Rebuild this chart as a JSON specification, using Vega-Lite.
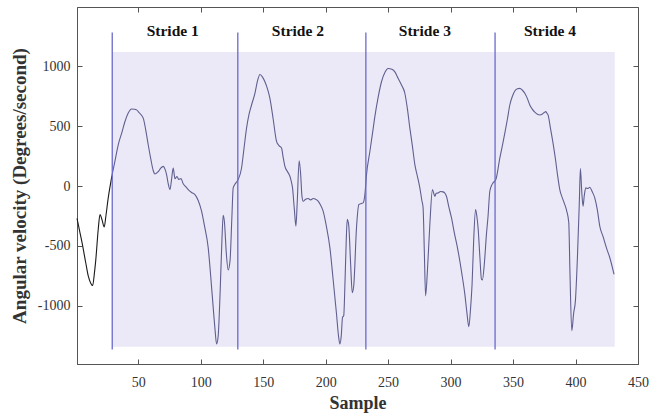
{
  "$schema": "https://vega.github.io/schema/vega-lite/v6.json",
  "width": 561,
  "height": 357,
  "autosize": {"type": "none"},
  "padding": {"left": 77, "top": 7, "right": 13, "bottom": 54},
  "background": "white",
  "config": {
    "view": {"stroke": "#555555", "strokeWidth": 1},
    "font": "Liberation Serif",
    "axis": {
      "labelFont": "Liberation Serif",
      "titleFont": "Liberation Serif",
      "labelFontSize": 14,
      "labelColor": "#333333",
      "titleFontWeight": "bold",
      "titleColor": "#333333",
      "domainColor": "#555555",
      "tickColor": "#555555",
      "grid": false
    }
  },
  "resolve": {"axis": {"x": "independent", "y": "independent"}},
  "datasets": {
    "signal": [
      {"sample": 1, "value": -270, "phase": "pre"},
      {"sample": 3, "value": -370, "phase": "pre"},
      {"sample": 5, "value": -470, "phase": "pre"},
      {"sample": 8, "value": -640, "phase": "pre"},
      {"sample": 10, "value": -750, "phase": "pre"},
      {"sample": 12, "value": -810, "phase": "pre"},
      {"sample": 13.5, "value": -830, "phase": "pre"},
      {"sample": 15, "value": -720, "phase": "pre"},
      {"sample": 16, "value": -620, "phase": "pre"},
      {"sample": 18, "value": -360, "phase": "pre"},
      {"sample": 19.4, "value": -237, "phase": "pre"},
      {"sample": 21, "value": -280, "phase": "pre"},
      {"sample": 22.8, "value": -342, "phase": "pre"},
      {"sample": 24, "value": -260, "phase": "pre"},
      {"sample": 26, "value": -98, "phase": "pre"},
      {"sample": 27.5, "value": 0, "phase": "pre"},
      {"sample": 29, "value": 90, "phase": "pre"},
      {"sample": 29, "value": 90, "phase": "stride"},
      {"sample": 31, "value": 190, "phase": "stride"},
      {"sample": 34, "value": 345, "phase": "stride"},
      {"sample": 37, "value": 450, "phase": "stride"},
      {"sample": 39.4, "value": 539, "phase": "stride"},
      {"sample": 42, "value": 610, "phase": "stride"},
      {"sample": 44.7, "value": 644, "phase": "stride"},
      {"sample": 47, "value": 642, "phase": "stride"},
      {"sample": 48.7, "value": 636, "phase": "stride"},
      {"sample": 51, "value": 610, "phase": "stride"},
      {"sample": 54, "value": 567, "phase": "stride"},
      {"sample": 56, "value": 470, "phase": "stride"},
      {"sample": 58, "value": 345, "phase": "stride"},
      {"sample": 60, "value": 230, "phase": "stride"},
      {"sample": 62, "value": 130, "phase": "stride"},
      {"sample": 63.4, "value": 101, "phase": "stride"},
      {"sample": 66, "value": 120, "phase": "stride"},
      {"sample": 68, "value": 150, "phase": "stride"},
      {"sample": 70, "value": 165, "phase": "stride"},
      {"sample": 71.5, "value": 140, "phase": "stride"},
      {"sample": 72.7, "value": 96, "phase": "stride"},
      {"sample": 74, "value": 20, "phase": "stride"},
      {"sample": 75.4, "value": -29, "phase": "stride"},
      {"sample": 76.5, "value": 40, "phase": "stride"},
      {"sample": 78, "value": 151, "phase": "stride"},
      {"sample": 79.4, "value": 62, "phase": "stride"},
      {"sample": 81, "value": 80, "phase": "stride"},
      {"sample": 82.5, "value": 55, "phase": "stride"},
      {"sample": 84.2, "value": 62, "phase": "stride"},
      {"sample": 86, "value": 20, "phase": "stride"},
      {"sample": 88, "value": -5, "phase": "stride"},
      {"sample": 90, "value": -29, "phase": "stride"},
      {"sample": 93, "value": -55, "phase": "stride"},
      {"sample": 95.4, "value": -71, "phase": "stride"},
      {"sample": 98, "value": -120, "phase": "stride"},
      {"sample": 100.7, "value": -209, "phase": "stride"},
      {"sample": 103, "value": -330, "phase": "stride"},
      {"sample": 106, "value": -514, "phase": "stride"},
      {"sample": 108, "value": -750, "phase": "stride"},
      {"sample": 110, "value": -1012, "phase": "stride"},
      {"sample": 111.5, "value": -1200, "phase": "stride"},
      {"sample": 112.7, "value": -1318, "phase": "stride"},
      {"sample": 114, "value": -1250, "phase": "stride"},
      {"sample": 115.5, "value": -900, "phase": "stride"},
      {"sample": 117, "value": -450, "phase": "stride"},
      {"sample": 118, "value": -243, "phase": "stride"},
      {"sample": 119, "value": -300, "phase": "stride"},
      {"sample": 120.5, "value": -560, "phase": "stride"},
      {"sample": 122, "value": -700, "phase": "stride"},
      {"sample": 123.5, "value": -620, "phase": "stride"},
      {"sample": 125, "value": -250, "phase": "stride"},
      {"sample": 126, "value": -15, "phase": "stride"},
      {"sample": 128.2, "value": 27, "phase": "stride"},
      {"sample": 130, "value": 54, "phase": "stride"},
      {"sample": 132.7, "value": 151, "phase": "stride"},
      {"sample": 134.5, "value": 300, "phase": "stride"},
      {"sample": 136.7, "value": 484, "phase": "stride"},
      {"sample": 138.5, "value": 590, "phase": "stride"},
      {"sample": 140.7, "value": 677, "phase": "stride"},
      {"sample": 143.4, "value": 775, "phase": "stride"},
      {"sample": 145.5, "value": 880, "phase": "stride"},
      {"sample": 147.4, "value": 932, "phase": "stride"},
      {"sample": 149.5, "value": 910, "phase": "stride"},
      {"sample": 151.4, "value": 871, "phase": "stride"},
      {"sample": 153.5, "value": 810, "phase": "stride"},
      {"sample": 155.4, "value": 733, "phase": "stride"},
      {"sample": 158, "value": 560, "phase": "stride"},
      {"sample": 160.7, "value": 373, "phase": "stride"},
      {"sample": 162.5, "value": 340, "phase": "stride"},
      {"sample": 164.7, "value": 318, "phase": "stride"},
      {"sample": 166, "value": 240, "phase": "stride"},
      {"sample": 167.4, "value": 165, "phase": "stride"},
      {"sample": 169.5, "value": 120, "phase": "stride"},
      {"sample": 171.4, "value": 82, "phase": "stride"},
      {"sample": 172.5, "value": 40, "phase": "stride"},
      {"sample": 173.5, "value": -15, "phase": "stride"},
      {"sample": 175, "value": -200, "phase": "stride"},
      {"sample": 176.2, "value": -334, "phase": "stride"},
      {"sample": 177.2, "value": -150, "phase": "stride"},
      {"sample": 178.8, "value": 212, "phase": "stride"},
      {"sample": 180, "value": 100, "phase": "stride"},
      {"sample": 181, "value": -80, "phase": "stride"},
      {"sample": 182, "value": -126, "phase": "stride"},
      {"sample": 184, "value": -110, "phase": "stride"},
      {"sample": 186, "value": -104, "phase": "stride"},
      {"sample": 188, "value": -115, "phase": "stride"},
      {"sample": 190, "value": -104, "phase": "stride"},
      {"sample": 192, "value": -110, "phase": "stride"},
      {"sample": 194, "value": -126, "phase": "stride"},
      {"sample": 196, "value": -160, "phase": "stride"},
      {"sample": 198, "value": -209, "phase": "stride"},
      {"sample": 200.5, "value": -330, "phase": "stride"},
      {"sample": 203.4, "value": -514, "phase": "stride"},
      {"sample": 206, "value": -780, "phase": "stride"},
      {"sample": 208.7, "value": -1068, "phase": "stride"},
      {"sample": 210.3, "value": -1250, "phase": "stride"},
      {"sample": 211.4, "value": -1318, "phase": "stride"},
      {"sample": 212.5, "value": -1250, "phase": "stride"},
      {"sample": 213.5, "value": -1096, "phase": "stride"},
      {"sample": 214.5, "value": -1080, "phase": "stride"},
      {"sample": 215.5, "value": -800, "phase": "stride"},
      {"sample": 216.5, "value": -450, "phase": "stride"},
      {"sample": 217.3, "value": -278, "phase": "stride"},
      {"sample": 218.5, "value": -330, "phase": "stride"},
      {"sample": 220, "value": -650, "phase": "stride"},
      {"sample": 221.3, "value": -890, "phase": "stride"},
      {"sample": 222.5, "value": -830, "phase": "stride"},
      {"sample": 224.7, "value": -347, "phase": "stride"},
      {"sample": 226.6, "value": -154, "phase": "stride"},
      {"sample": 228.7, "value": -145, "phase": "stride"},
      {"sample": 230, "value": -140, "phase": "stride"},
      {"sample": 231.4, "value": -71, "phase": "stride"},
      {"sample": 232.7, "value": 96, "phase": "stride"},
      {"sample": 235.4, "value": 289, "phase": "stride"},
      {"sample": 237.5, "value": 440, "phase": "stride"},
      {"sample": 239.4, "value": 580, "phase": "stride"},
      {"sample": 242, "value": 740, "phase": "stride"},
      {"sample": 244.7, "value": 871, "phase": "stride"},
      {"sample": 247.5, "value": 950, "phase": "stride"},
      {"sample": 250, "value": 982, "phase": "stride"},
      {"sample": 253, "value": 975, "phase": "stride"},
      {"sample": 255.4, "value": 954, "phase": "stride"},
      {"sample": 258, "value": 900, "phase": "stride"},
      {"sample": 260.7, "value": 844, "phase": "stride"},
      {"sample": 263.4, "value": 775, "phase": "stride"},
      {"sample": 265.5, "value": 640, "phase": "stride"},
      {"sample": 267.4, "value": 484, "phase": "stride"},
      {"sample": 269.5, "value": 330, "phase": "stride"},
      {"sample": 271.4, "value": 179, "phase": "stride"},
      {"sample": 273.5, "value": 80, "phase": "stride"},
      {"sample": 275.4, "value": -15, "phase": "stride"},
      {"sample": 277, "value": -120, "phase": "stride"},
      {"sample": 278, "value": -181, "phase": "stride"},
      {"sample": 279, "value": -550, "phase": "stride"},
      {"sample": 280, "value": -916, "phase": "stride"},
      {"sample": 281.5, "value": -700, "phase": "stride"},
      {"sample": 283.4, "value": -320, "phase": "stride"},
      {"sample": 285.5, "value": -29, "phase": "stride"},
      {"sample": 286.5, "value": -60, "phase": "stride"},
      {"sample": 287.4, "value": -85, "phase": "stride"},
      {"sample": 288.5, "value": -60, "phase": "stride"},
      {"sample": 290, "value": -57, "phase": "stride"},
      {"sample": 292, "value": -45, "phase": "stride"},
      {"sample": 294, "value": -48, "phase": "stride"},
      {"sample": 295.5, "value": -60, "phase": "stride"},
      {"sample": 296.7, "value": -85, "phase": "stride"},
      {"sample": 298.5, "value": -170, "phase": "stride"},
      {"sample": 300.7, "value": -264, "phase": "stride"},
      {"sample": 303, "value": -390, "phase": "stride"},
      {"sample": 306, "value": -542, "phase": "stride"},
      {"sample": 309, "value": -730, "phase": "stride"},
      {"sample": 311.4, "value": -902, "phase": "stride"},
      {"sample": 313, "value": -1050, "phase": "stride"},
      {"sample": 314.6, "value": -1174, "phase": "stride"},
      {"sample": 316, "value": -1020, "phase": "stride"},
      {"sample": 317.2, "value": -819, "phase": "stride"},
      {"sample": 318.5, "value": -450, "phase": "stride"},
      {"sample": 320, "value": -195, "phase": "stride"},
      {"sample": 321, "value": -250, "phase": "stride"},
      {"sample": 322, "value": -348, "phase": "stride"},
      {"sample": 323.5, "value": -600, "phase": "stride"},
      {"sample": 324.7, "value": -777, "phase": "stride"},
      {"sample": 325.5, "value": -783, "phase": "stride"},
      {"sample": 327, "value": -650, "phase": "stride"},
      {"sample": 328.7, "value": -403, "phase": "stride"},
      {"sample": 330, "value": -250, "phase": "stride"},
      {"sample": 331.4, "value": -43, "phase": "stride"},
      {"sample": 333, "value": 10, "phase": "stride"},
      {"sample": 334, "value": 27, "phase": "stride"},
      {"sample": 336.2, "value": 54, "phase": "stride"},
      {"sample": 339.4, "value": 234, "phase": "stride"},
      {"sample": 341.5, "value": 340, "phase": "stride"},
      {"sample": 343.4, "value": 442, "phase": "stride"},
      {"sample": 345.5, "value": 560, "phase": "stride"},
      {"sample": 347.4, "value": 677, "phase": "stride"},
      {"sample": 349.5, "value": 750, "phase": "stride"},
      {"sample": 351.4, "value": 794, "phase": "stride"},
      {"sample": 353.5, "value": 812, "phase": "stride"},
      {"sample": 355.4, "value": 816, "phase": "stride"},
      {"sample": 357.5, "value": 800, "phase": "stride"},
      {"sample": 359.4, "value": 775, "phase": "stride"},
      {"sample": 361.5, "value": 730, "phase": "stride"},
      {"sample": 363.4, "value": 677, "phase": "stride"},
      {"sample": 365.5, "value": 640, "phase": "stride"},
      {"sample": 367.4, "value": 617, "phase": "stride"},
      {"sample": 369.5, "value": 600, "phase": "stride"},
      {"sample": 371.4, "value": 594, "phase": "stride"},
      {"sample": 373.5, "value": 602, "phase": "stride"},
      {"sample": 375, "value": 615, "phase": "stride"},
      {"sample": 376.2, "value": 622, "phase": "stride"},
      {"sample": 377, "value": 610, "phase": "stride"},
      {"sample": 378, "value": 594, "phase": "stride"},
      {"sample": 380, "value": 480, "phase": "stride"},
      {"sample": 382, "value": 359, "phase": "stride"},
      {"sample": 384, "value": 220, "phase": "stride"},
      {"sample": 385.5, "value": 100, "phase": "stride"},
      {"sample": 387.4, "value": -29, "phase": "stride"},
      {"sample": 389.5, "value": -100, "phase": "stride"},
      {"sample": 391.4, "value": -154, "phase": "stride"},
      {"sample": 393, "value": -210, "phase": "stride"},
      {"sample": 394.6, "value": -306, "phase": "stride"},
      {"sample": 395.5, "value": -700, "phase": "stride"},
      {"sample": 397, "value": -1207, "phase": "stride"},
      {"sample": 398.5, "value": -1060, "phase": "stride"},
      {"sample": 399.9, "value": -958, "phase": "stride"},
      {"sample": 401.5, "value": -600, "phase": "stride"},
      {"sample": 403, "value": -150, "phase": "stride"},
      {"sample": 403.9, "value": 146, "phase": "stride"},
      {"sample": 405, "value": -50, "phase": "stride"},
      {"sample": 406, "value": -168, "phase": "stride"},
      {"sample": 407, "value": -80, "phase": "stride"},
      {"sample": 408.2, "value": -15, "phase": "stride"},
      {"sample": 410, "value": -20, "phase": "stride"},
      {"sample": 411.4, "value": -10, "phase": "stride"},
      {"sample": 413.5, "value": -50, "phase": "stride"},
      {"sample": 415.4, "value": -98, "phase": "stride"},
      {"sample": 417.5, "value": -200, "phase": "stride"},
      {"sample": 419.4, "value": -334, "phase": "stride"},
      {"sample": 422, "value": -420, "phase": "stride"},
      {"sample": 424.7, "value": -514, "phase": "stride"},
      {"sample": 427.5, "value": -600, "phase": "stride"},
      {"sample": 430.8, "value": -736, "phase": "stride"}
    ],
    "shade": [
      {"start": 29.2, "end": 431.4, "low": -1340, "high": 1120}
    ],
    "strides": [
      {"stride": "Stride 1", "onset": 29.2, "center": 77.6, "top": 1283, "bottom": -1365, "labelY": 1295},
      {"stride": "Stride 2", "onset": 129.7, "center": 177.8, "top": 1283, "bottom": -1365, "labelY": 1295},
      {"stride": "Stride 3", "onset": 232.2, "center": 279.4, "top": 1283, "bottom": -1365, "labelY": 1295},
      {"stride": "Stride 4", "onset": 335.6, "center": 379.6, "top": 1283, "bottom": -1365, "labelY": 1295}
    ]
  },
  "layer": [
    {
      "data": {"name": "shade"},
      "mark": {"type": "rect", "color": "#ebe9f7"},
      "encoding": {
        "x": {"field": "start", "type": "quantitative", "scale": {"domain": [1, 450], "nice": false, "zero": false},
              "axis": {"orient": "bottom", "values": [50, 100, 150, 200, 250, 300, 350, 400, 450], "format": "d", "title": "Sample", "titleFontSize": 18, "tickSize": -5, "labelPadding": 16, "titlePadding": 5, "labelFlush": false}},
        "x2": {"field": "end"},
        "y": {"field": "low", "type": "quantitative", "scale": {"domain": [-1485, 1495], "nice": false, "zero": false},
              "axis": {"orient": "left", "values": [-1000, -500, 0, 500, 1000], "format": "d", "title": "Angular velocity (Degrees/second)", "titleFontSize": 19, "tickSize": -5, "labelPadding": 12, "titlePadding": 8, "labelExpr": "replace(datum.label, '−', '-')"}},
        "y2": {"field": "high"}
      }
    },
    {
      "data": {"name": "signal"},
      "mark": {"type": "line", "strokeWidth": 1.1, "interpolate": "monotone"},
      "encoding": {
        "x": {"field": "sample", "type": "quantitative",
              "axis": {"orient": "top", "values": [50, 100, 150, 200, 250, 300, 350, 400, 450], "labels": false, "title": null, "domain": false, "tickSize": -5}},
        "y": {"field": "value", "type": "quantitative",
              "axis": {"orient": "right", "values": [-1000, -500, 0, 500, 1000], "labels": false, "title": null, "domain": false, "tickSize": -5}},
        "color": {"field": "phase", "type": "nominal", "scale": {"domain": ["pre", "stride"], "range": ["#1a1a1a", "#5f5f8f"]}, "legend": null},
        "order": {"field": "sample", "type": "quantitative"}
      }
    },
    {
      "data": {"name": "strides"},
      "mark": {"type": "rule", "color": "#6a6acc", "strokeWidth": 1.3},
      "encoding": {
        "x": {"field": "onset", "type": "quantitative", "axis": null},
        "y": {"field": "top", "type": "quantitative", "axis": null},
        "y2": {"field": "bottom"}
      }
    },
    {
      "data": {"name": "strides"},
      "mark": {"type": "text", "font": "Liberation Serif", "fontWeight": "bold", "fontSize": 15.5, "color": "#111111", "align": "center", "baseline": "middle"},
      "encoding": {
        "x": {"field": "center", "type": "quantitative", "axis": null},
        "y": {"field": "labelY", "type": "quantitative", "axis": null},
        "text": {"field": "stride"}
      }
    }
  ]
}
